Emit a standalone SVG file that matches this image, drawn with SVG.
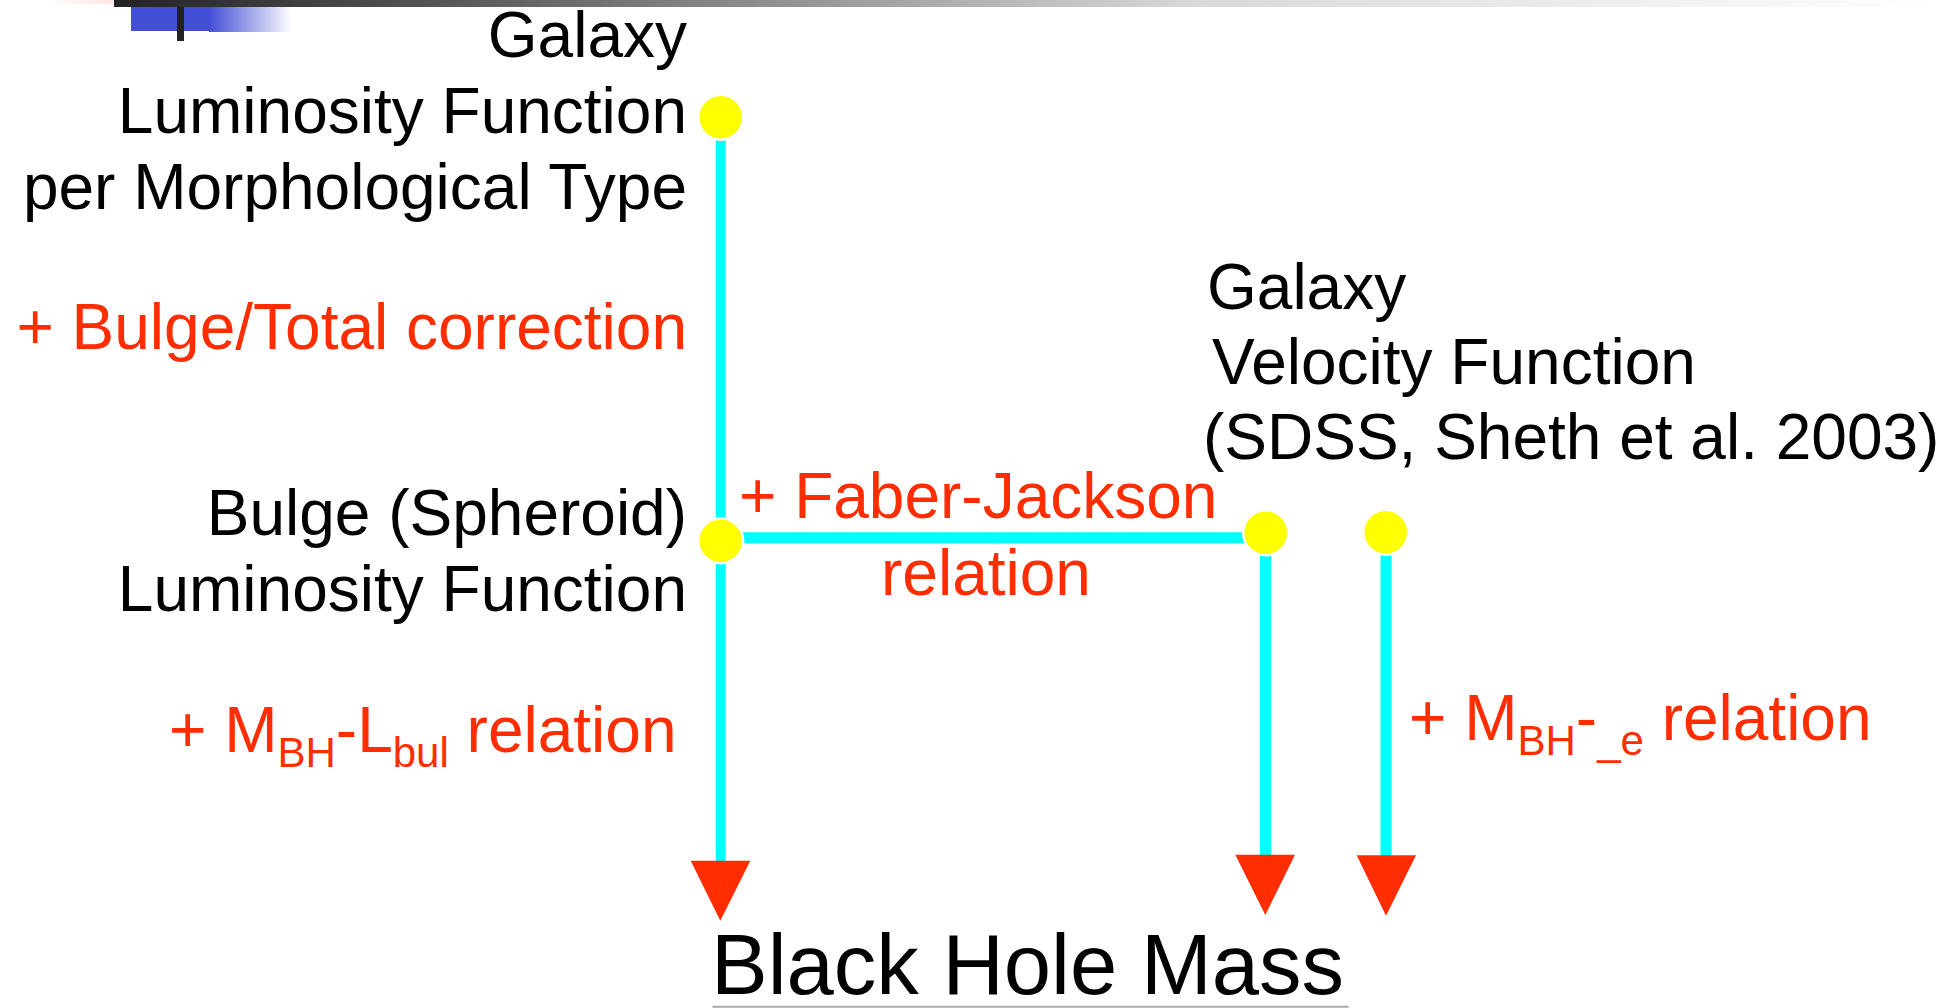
<svg xmlns="http://www.w3.org/2000/svg" width="1959" height="1008" viewBox="0 0 1959 1008">
<style>
  text { font-family: "Liberation Sans", Arial, Helvetica, sans-serif; font-size: 64px; }
  .blk { fill: #000000; }
  .red { fill: #ff2d00; }
  .end { text-anchor: end; }
  .sub { font-size: 42px; }
  .dot { fill: #ffff00; stroke: #ffffff; stroke-width: 2.5; }
  .wire { stroke: #00ffff; fill: none; }
  .head { fill: #ff2d00; }
</style>
<defs>
  <linearGradient id="topbar" gradientUnits="userSpaceOnUse" x1="114" y1="0" x2="1935" y2="0">
    <stop offset="0" stop-color="#222222"/>
    <stop offset="0.16" stop-color="#505050"/>
    <stop offset="0.59" stop-color="#d8d8d8"/>
    <stop offset="1" stop-color="#ffffff"/>
  </linearGradient>
  <linearGradient id="pinkfade" gradientUnits="userSpaceOnUse" x1="44" y1="0" x2="114" y2="0">
    <stop offset="0" stop-color="#ffffff"/>
    <stop offset="1" stop-color="#fde4e4"/>
  </linearGradient>
  <linearGradient id="bluefade" gradientUnits="userSpaceOnUse" x1="209" y1="0" x2="292" y2="0">
    <stop offset="0" stop-color="#434ed6"/>
    <stop offset="1" stop-color="#ffffff"/>
  </linearGradient>
</defs>
<rect width="1959" height="1008" fill="#ffffff"/>

<g id="decor">
  <rect x="44" y="0" width="70" height="4" fill="url(#pinkfade)"/>
  <rect x="114" y="0" width="1830" height="7" fill="url(#topbar)"/>
  <rect x="131" y="7" width="78" height="24" fill="#434ed6"/>
  <rect x="209" y="7" width="83" height="25" fill="url(#bluefade)"/>
  <rect x="177" y="7" width="7" height="34" fill="#222222"/>
</g>

<g id="connectors">
  <line class="wire" x1="720.7" y1="117" x2="720.7" y2="862" stroke-width="10"/>
  <line class="wire" x1="720" y1="537.8" x2="1250" y2="537.8" stroke-width="11"/>
  <line class="wire" x1="1265.5" y1="532" x2="1265.5" y2="856" stroke-width="11"/>
  <line class="wire" x1="1386" y1="532" x2="1386" y2="856" stroke-width="11"/>
  <polygon class="head" points="690.7,860.7 750.3,860.7 720.3,920.7"/>
  <polygon class="head" points="1235.3,854.7 1295,854.7 1265.3,915"/>
  <polygon class="head" points="1356.7,855.3 1416,855.3 1386,915.7"/>
  <text class="red end" x="687" y="349">+ Bulge/Total correction</text>
  <text class="red" x="739" y="518">+ Faber-Jackson</text>
  <text class="red" x="881" y="595">relation</text>
  <text class="red" x="169" y="752">+ M<tspan class="sub" dy="15">BH</tspan><tspan dy="-15">-L</tspan><tspan class="sub" dy="15">bul</tspan><tspan dy="-15"> relation</tspan></text>
  <text class="red" x="1409" y="740">+ M<tspan class="sub" dy="15">BH</tspan><tspan dy="-15">-</tspan><tspan class="sub" dy="15">_e</tspan><tspan dy="-15"> relation</tspan></text>
</g>

<g id="node-galaxy-lf">
  <circle class="dot" cx="720.7" cy="117.3" r="22.5"/>
  <text class="blk end" x="687" y="57">Galaxy</text>
  <text class="blk end" x="687" y="133">Luminosity Function</text>
  <text class="blk end" x="687" y="209">per Morphological Type</text>
</g>

<g id="node-bulge-lf">
  <circle class="dot" cx="720.7" cy="540.7" r="22.5"/>
  <text class="blk end" x="687" y="535">Bulge (Spheroid)</text>
  <text class="blk end" x="687" y="611">Luminosity Function</text>
</g>

<g id="node-vf-fj">
  <circle class="dot" cx="1265.7" cy="532.7" r="22.5"/>
</g>

<g id="node-vf-sdss">
  <circle class="dot" cx="1385.7" cy="532.3" r="22.5"/>
  <text class="blk" x="1207" y="309">Galaxy</text>
  <text class="blk" x="1212" y="384">Velocity Function</text>
  <text class="blk" x="1203" y="459">(SDSS, Sheth et al. 2003)</text>
</g>

<g id="node-bhm">
  <text class="blk" x="711" y="994" style="font-size:85px">Black Hole Mass</text>
  <line x1="712.5" y1="1006.7" x2="1348.6" y2="1006.7" stroke="#aaaaaa" stroke-width="2"/>
</g>
</svg>
